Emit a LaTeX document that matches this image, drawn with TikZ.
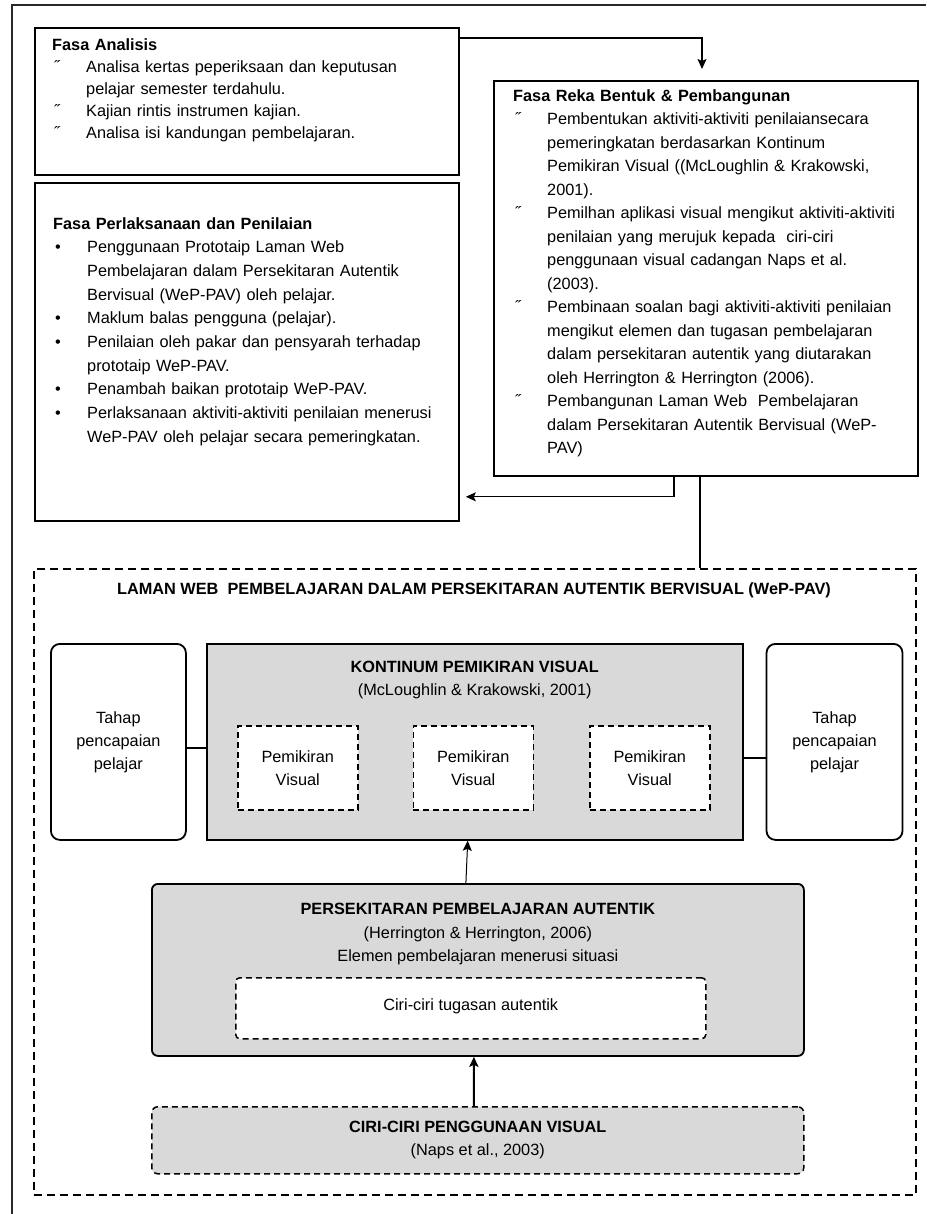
\documentclass[tikz,border=0pt]{standalone}
\usepackage{fontspec}
\setmainfont{Liberation Sans}
\usepackage{tikz}
\usetikzlibrary{arrows.meta,positioning,calc}
\definecolor{boxgray}{RGB}{217,217,217}
\definecolor{framegray}{RGB}{40,40,40}

\newcommand{\fasaitem}[2]{\par\noindent\hangindent=34pt\hangafter=1\makebox[34pt][l]{\hspace{2pt}#1}#2\par}
\newcommand{\lifted}[2]{\raisebox{#1}{\parbox{110pt}{\centering #2}}}

\begin{document}
\begin{tikzpicture}[x=1pt,y=-1pt,
  box/.style={draw,line width=1.8pt,inner sep=0pt,anchor=north west},
  fasatext/.style={inner sep=0pt,anchor=north west,text width=420pt,align=left},
  lowbox/.style={draw,line width=1.8pt,inner sep=0pt,align=center,font=\fontsize{16.3}{23}\selectfont},
  dashbox/.style={draw,line width=1.5pt,dash pattern=on 6pt off 4pt},
  arrow/.style={-{Stealth[length=10pt,width=9pt,inset=2pt]},line width=1.3pt},
  node distance=19pt
]
\useasboundingbox (0,0) rectangle (926,1214);
\fill[white] (0,0) rectangle (926,1214);
\draw[framegray,line width=2pt] (12,1214) -- (12,5) -- (926,5);

% fasa boxes
\node[box,minimum width=424pt,minimum height=147pt] (analisis) at (34,27) {};
\node[fasatext,font=\fontsize{16.3}{22}\selectfont] (analisisText) at ($(analisis.north west)+(18,11)$) {%
  \textbf{Fasa Analisis}
  \fasaitem{˝}{Analisa kertas peperiksaan dan keputusan\newline pelajar semester terdahulu.}
  \fasaitem{˝}{Kajian rintis instrumen kajian.}
  \fasaitem{˝}{Analisa isi kandungan pembelajaran.}};

\node[box,minimum width=424pt,minimum height=395pt] (reka) at (493,80) {};
\node[fasatext,font=\fontsize{16.3}{23.5}\selectfont] (rekaText) at ($(reka.north west)+(20,9)$) {%
  \textbf{Fasa Reka Bentuk \& Pembangunan}
  \fasaitem{˝}{Pembentukan aktiviti-aktiviti penilaiansecara\newline pemeringkatan berdasarkan Kontinum\newline Pemikiran Visual ((McLoughlin \& Krakowski,\newline 2001).}
  \fasaitem{˝}{Pemilhan aplikasi visual mengikut aktiviti-aktiviti\newline penilaian yang merujuk kepada\ \ ciri-ciri\newline penggunaan visual cadangan Naps et al.\newline (2003).}
  \fasaitem{˝}{Pembinaan soalan bagi aktiviti-aktiviti penilaian\newline mengikut elemen dan tugasan pembelajaran\newline dalam persekitaran autentik yang diutarakan\newline oleh Herrington \& Herrington (2006).}
  \fasaitem{˝}{Pembangunan Laman Web\ \ Pembelajaran\newline dalam Persekitaran Autentik Bervisual (WeP-\newline PAV)}};

\node[box,minimum width=424pt,minimum height=338pt] (laksana) at (34,182) {};
\node[fasatext,font=\fontsize{16.3}{23.7}\selectfont] (laksanaText) at ($(laksana.north west)+(19,35)$) {%
  \textbf{Fasa Perlaksanaan dan Penilaian}
  \fasaitem{•}{Penggunaan Prototaip Laman Web\newline Pembelajaran dalam Persekitaran Autentik\newline Bervisual (WeP-PAV) oleh pelajar.}
  \fasaitem{•}{Maklum balas pengguna (pelajar).}
  \fasaitem{•}{Penilaian oleh pakar dan pensyarah terhadap\newline prototaip WeP-PAV.}
  \fasaitem{•}{Penambah baikan prototaip WeP-PAV.}
  \fasaitem{•}{Perlaksanaan aktiviti-aktiviti penilaian menerusi\newline WeP-PAV oleh pelajar secara pemeringkatan.}};

% WeP-PAV frame
\node[dashbox,line width=1.7pt,dash pattern=on 8pt off 5pt,inner sep=0pt,anchor=north west,minimum width=882pt,minimum height=626pt] (wep) at (33,568) {};
\node[font=\bfseries\fontsize{16.3}{23}\selectfont] (wepTitle) at (474,590) {LAMAN WEB\ \ PEMBELAJARAN DALAM PERSEKITARAN AUTENTIK BERVISUAL (WeP-PAV)};

\node[lowbox,rounded corners=9pt,anchor=north west,minimum width=135pt,minimum height=196pt] (tahapL) at (50,643) {Tahap\\pencapaian\\pelajar};
\node[lowbox,fill=boxgray,right=of tahapL,minimum width=536pt,minimum height=196pt] (kontinum) {};
\node[lowbox,rounded corners=9pt,right=22pt of kontinum,minimum width=136pt,minimum height=196pt] (tahapR) {\lifted{3pt}{Tahap\\pencapaian\\pelajar}};
\node[align=center,font=\fontsize{16.3}{22.5}\selectfont] (kontinumTitle) at ($(kontinum.north)+(0,37)$) {\textbf{KONTINUM PEMIKIRAN VISUAL}\\(McLoughlin \& Krakowski, 2001)};

\node[lowbox,dashbox,fill=white,anchor=north west,minimum width=120pt,minimum height=84pt] (pv1) at (237,725) {\lifted{8pt}{Pemikiran\\Visual}};
\node[lowbox,dashbox,fill=white,right=54pt of pv1,minimum width=120pt,minimum height=84pt] (pv2) {\lifted{8pt}{Pemikiran\\Visual}};
\node[lowbox,dashbox,fill=white,right=55pt of pv2,minimum width=120pt,minimum height=84pt] (pv3) {\lifted{8pt}{Pemikiran\\Visual}};

\node[lowbox,fill=boxgray,rounded corners=6pt,anchor=north west,minimum width=652pt,minimum height=172pt] (persek) at (151,883) {};
\node[align=center,font=\fontsize{16.3}{23.5}\selectfont] (persekTitle) at ($(persek.north)+(0,51)$) {\textbf{PERSEKITARAN PEMBELAJARAN AUTENTIK}\\(Herrington \& Herrington, 2006)\\Elemen pembelajaran menerusi situasi};
\node[lowbox,dashbox,fill=white,rounded corners=4pt,anchor=north west,minimum width=470pt,minimum height=61pt] (tugasan) at (235,977) {\raisebox{7pt}{Ciri-ciri tugasan autentik}};

\node[lowbox,dashbox,fill=boxgray,rounded corners=6pt,anchor=north west,minimum width=652pt,minimum height=67pt] (ciri) at (151,1106) {\textbf{CIRI-CIRI PENGGUNAAN VISUAL}\\(Naps et al., 2003)};

% connectors
\draw[arrow,shorten >=11pt] ($(analisis.north east)+(0,11)$) -| ($(reka.north west)+(209,0)$);
\draw[arrow,shorten >=6pt] ($(reka.south west)+(181,0)$) |- ($(laksana.south east)+(0,-25)$);
\draw[line width=1.3pt] ($(reka.south west)+(207,0)$) -- ($(wep.north west)+(667,0)$);
\draw[line width=1.3pt] ($(tahapL.east)+(0,6)$) -- ($(kontinum.west)+(0,6)$);
\draw[line width=1.3pt] ($(kontinum.east)+(0,16)$) -- ($(tahapR.west)+(0,16)$);
\draw[arrow,line width=1pt] ($(persek.north)+(-12,0)$) -- ($(kontinum.south)+(-7,0)$);
\draw[arrow,line width=2pt] ($(ciri.north)+(-4,0)$) -- ($(persek.south)+(-4,0)$);
\end{tikzpicture}
\end{document}
